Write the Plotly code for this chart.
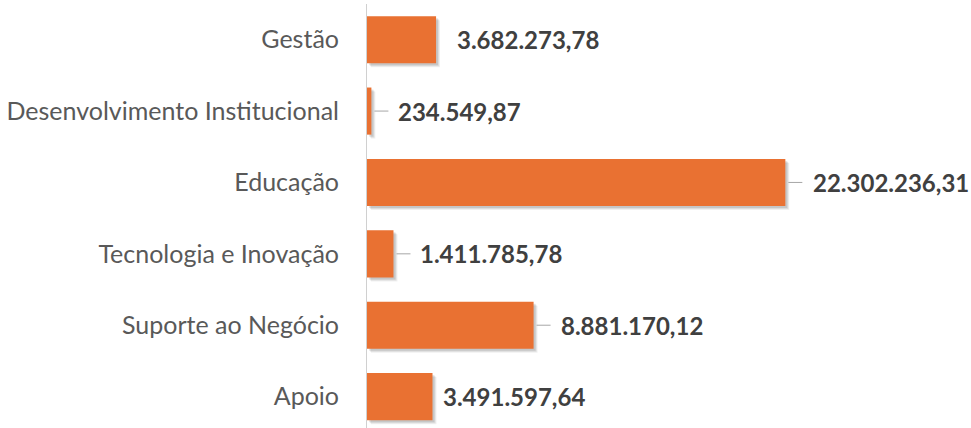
import plotly.graph_objects as go

categories = ["Gestão", "Desenvolvimento Institucional", "Educação",
              "Tecnologia e Inovação", "Suporte ao Negócio", "Apoio"]
values = [3682273.78, 234549.87, 22302236.31, 1411785.78, 8881170.12, 3491597.64]
value_labels = ["3.682.273,78", "234.549,87", "22.302.236,31",
                "1.411.785,78", "8.881.170,12", "3.491.597,64"]

# label placement: pixel gap after the bar end, and whether a leader line is drawn
label_gap = [19, 25, 26, 25, 25, 9]
leader = [False, True, True, True, True, False]

BAR = "#E97132"
pos = list(range(len(categories)))
bar_w = 0.66
x_max = 32.2e6
px_per_unit = 605 / x_max

fig = go.Figure()

# soft drop shadow (a few stacked translucent layers offset down/right)
for dx, dy, a in [(4, 4, 0.06), (3, 3, 0.08), (2, 2, 0.10)]:
    fig.add_trace(go.Bar(
        y=pos, x=values, base=[dx / px_per_unit] * len(values),
        orientation="h", width=bar_w, offset=-bar_w / 2 + dy / 71.4,
        marker=dict(color=f"rgba(0,0,0,{a})", line=dict(width=0)),
        hoverinfo="skip", showlegend=False,
    ))

fig.add_trace(go.Bar(
    y=pos, x=values, orientation="h", width=bar_w,
    marker=dict(color=BAR, line=dict(width=0)),
    showlegend=False,
))

shapes = []
annotations = []
for i, (v, txt) in enumerate(zip(values, value_labels)):
    if leader[i]:
        shapes.append(dict(
            type="line", xref="x", yref="y", xsizemode="pixel", xanchor=v,
            x0=3, x1=17, y0=i, y1=i,
            line=dict(color="#A6A6A6", width=1),
        ))
    annotations.append(dict(
        x=v, y=i, xref="x", yref="y", text=f"<b>{txt}</b>", showarrow=False,
        xanchor="left", yanchor="middle", xshift=label_gap[i],
        font=dict(family="Lato", size=24, color="#404040"),
    ))

fig.update_layout(
    width=971, height=428,
    margin=dict(l=367, r=0, t=4, b=0),
    paper_bgcolor="white", plot_bgcolor="white",
    barmode="overlay",
    shapes=shapes, annotations=annotations,
    xaxis=dict(range=[0, x_max], visible=False, showgrid=False, zeroline=False),
    yaxis=dict(
        range=[5.44, -0.5], tickmode="array", tickvals=pos, ticktext=categories,
        showline=True, linecolor="#D0D0D0", linewidth=1, showgrid=False,
        zeroline=False, ticks="", ticklabelstandoff=22,
        tickfont=dict(family="Lato", size=25, color="#595959"),
    ),
)

fig.write_html("out.html")
